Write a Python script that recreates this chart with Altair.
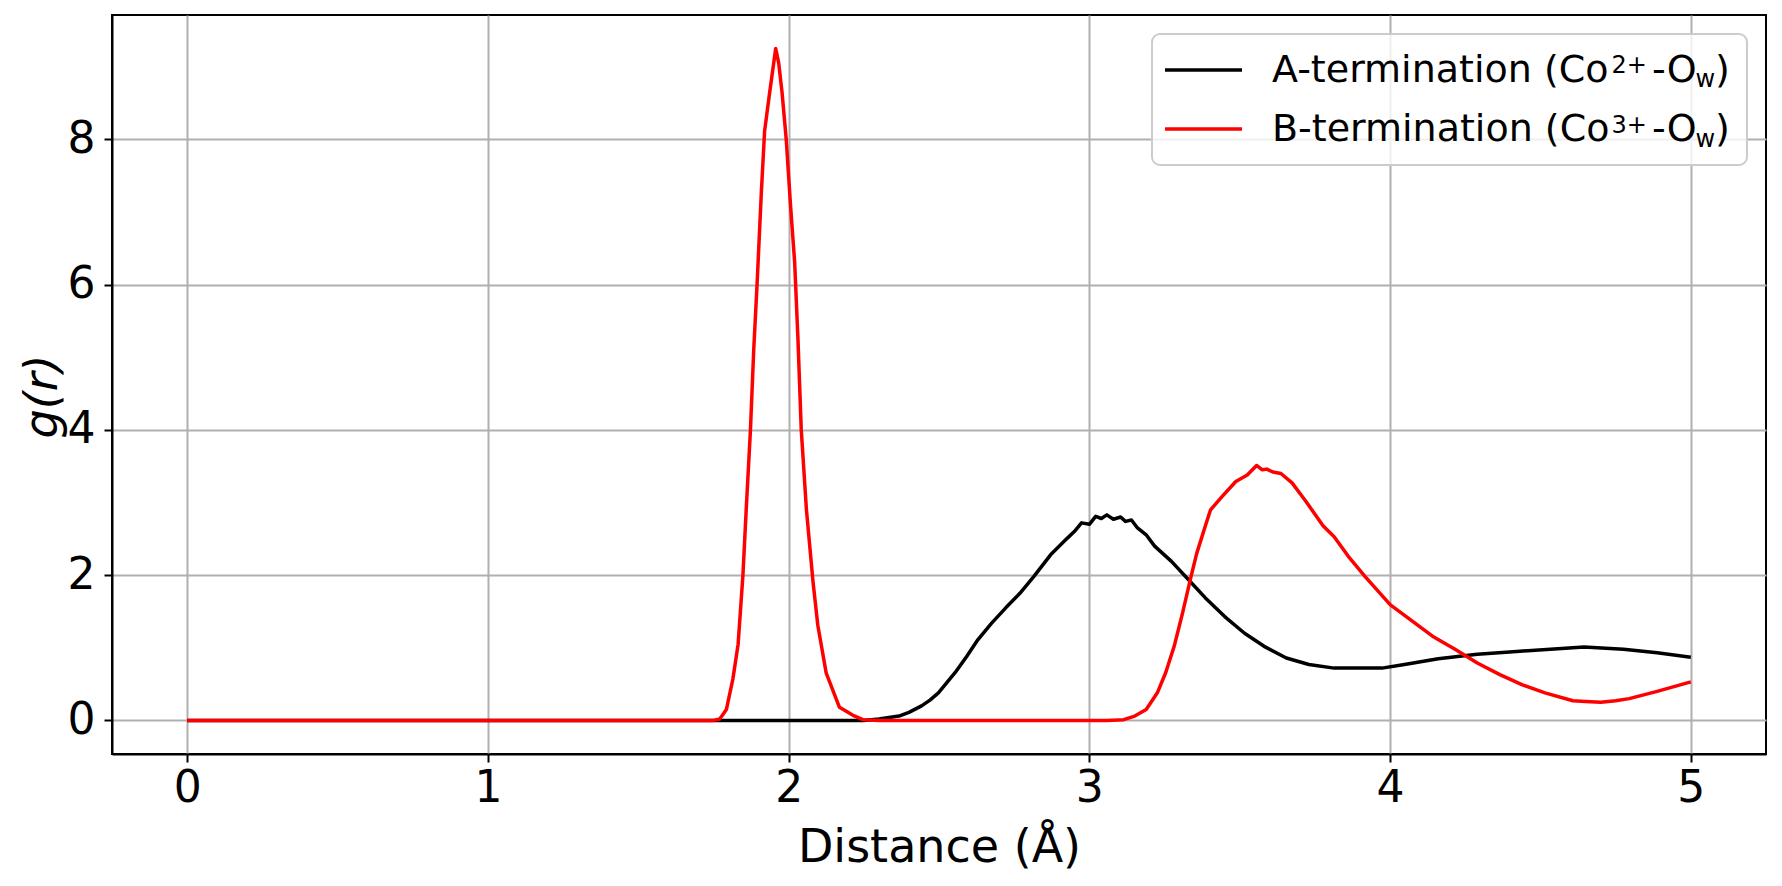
import altair as alt
import pandas as pd

# ---- data ----
a_x = [0, 1.0, 2.25, 2.30, 2.367, 2.40, 2.442, 2.47, 2.498, 2.554, 2.592, 2.629, 2.675,
       2.722, 2.769, 2.815, 2.871, 2.927, 2.95, 2.974, 3.00, 3.021, 3.04, 3.058, 3.08,
       3.104, 3.12, 3.14, 3.160, 3.19, 3.217, 3.273, 3.329, 3.385, 3.450, 3.516, 3.581,
       3.655, 3.730, 3.814, 3.898, 3.973, 4.048, 4.160, 4.290, 4.421, 4.533, 4.645,
       4.776, 4.888, 5.0]
a_y = [0, 0, 0, 0.02, 0.06, 0.11, 0.20, 0.28, 0.38, 0.66, 0.88, 1.11, 1.34,
       1.55, 1.75, 1.98, 2.28, 2.51, 2.60, 2.72, 2.70, 2.81, 2.78, 2.83, 2.77,
       2.80, 2.74, 2.76, 2.65, 2.55, 2.40, 2.19, 1.94, 1.69, 1.43, 1.20, 1.02,
       0.86, 0.77, 0.72, 0.72, 0.72, 0.77, 0.85, 0.91, 0.95, 0.98, 1.01,
       0.98, 0.93, 0.87]

b_x = [0, 1.0, 1.75, 1.771, 1.793, 1.815, 1.832, 1.848, 1.859, 1.873, 1.884, 1.895,
       1.909, 1.920, 1.937, 1.957, 1.967, 1.978, 1.992, 2.006, 2.020, 2.031, 2.042,
       2.059, 2.081, 2.097, 2.125, 2.169, 2.214, 2.247, 2.30, 2.5, 3.0, 3.058, 3.114,
       3.151, 3.189, 3.226, 3.254, 3.282, 3.310, 3.338, 3.357, 3.385, 3.403, 3.441,
       3.487, 3.525, 3.556, 3.575, 3.590, 3.610, 3.637, 3.674, 3.721, 3.777, 3.814,
       3.861, 3.917, 4.001, 4.066, 4.141, 4.216, 4.290, 4.365, 4.440, 4.515, 4.608,
       4.65, 4.701, 4.75, 4.795, 4.888, 5.0]
b_y = [0, 0, 0, 0.02, 0.15, 0.58, 1.05, 2.0, 2.91, 4.0, 5.11, 6.0,
       7.25, 8.11, 8.65, 9.25, 9.05, 8.65, 8.0, 7.11, 6.31, 5.25, 4.0,
       2.91, 1.91, 1.31, 0.65, 0.18, 0.07, 0.01, 0, 0, 0, 0, 0.01,
       0.06, 0.15, 0.38, 0.66, 1.02, 1.48, 1.98, 2.30, 2.67, 2.90, 3.08,
       3.29, 3.38, 3.51, 3.45, 3.46, 3.42, 3.40, 3.27, 3.01, 2.68, 2.53,
       2.26, 1.98, 1.59, 1.39, 1.16, 0.98, 0.79, 0.63, 0.49, 0.38, 0.27,
       0.26, 0.25, 0.27, 0.30, 0.40, 0.53]

x_ticks = [0, 1, 2, 3, 4, 5]
y_ticks = [0, 2, 4, 6, 8]
x_title = "Distance (Å)"
y_title = "g(r)"
legend_rows = [
    ["A-termination (Co", "2+", "-O", "w", ")"],
    ["B-termination (Co", "3+", "-O", "w", ")"],
]
series_colors = ["#000000", "#ff0000"]

assert len(a_x) == len(a_y) and len(b_x) == len(b_y)

FONT = "DejaVu Sans"
W, H = 1654, 739

df_a = pd.DataFrame({"r": a_x, "g": a_y})
df_b = pd.DataFrame({"r": b_x, "g": b_y})

xscale = alt.Scale(domain=[-0.25, 5.25], nice=False, zero=False)
yscale = alt.Scale(domain=[-0.4625, 9.7125], nice=False, zero=False)

xaxis = alt.Axis(values=x_ticks, title=x_title, format="d", labelFontSize=44,
                 labelPadding=4, titleFontSize=46, titleBaseline="alphabetic",
                 titleY=107, titleFontWeight="normal")
yaxis = alt.Axis(values=y_ticks, title=y_title, format="d", labelFontSize=44,
                 labelPadding=9, titleFontSize=46, titleFontStyle="italic",
                 titleFontWeight="normal", titleAngle=270, titleBaseline="alphabetic",
                 titleX=-56, titleY=381)


def line(df, color):
    return alt.Chart(df).mark_line(color=color, strokeWidth=3.5, strokeJoin="round",
                                   clip=True).encode(
        x=alt.X("r:Q", scale=xscale, axis=xaxis),
        y=alt.Y("g:Q", scale=yscale, axis=yaxis),
    )


layers = [line(df_a, series_colors[0]), line(df_b, series_colors[1])]

dummy = pd.DataFrame({"k": [0]})

# legend frame
layers.append(
    alt.Chart(dummy).mark_rect(fill="white", fillOpacity=0.8, stroke="#cccccc",
                               strokeWidth=2, cornerRadius=8).encode(
        x=alt.value(1040), x2=alt.value(1635), y=alt.value(19), y2=alt.value(150))
)

row_base = [66.7, 126.0]
line_y = [55, 114]
for i, row in enumerate(legend_rows):
    layers.append(
        alt.Chart(dummy).mark_rule(color=series_colors[i], strokeWidth=3.5).encode(
            x=alt.value(1053), x2=alt.value(1130), y=alt.value(line_y[i]))
    )
    base = row_base[i]
    segs = [
        (row[0], 1160, base, 38),
        (row[1], 1499.5, base - 8.4, 24),
        (row[2], 1540, base, 38),
        (row[3], 1583.5, base + 5.6, 24),
        (row[4], 1603, base, 38),
    ]
    for txt, sx, sy, fs in segs:
        layers.append(
            alt.Chart(pd.DataFrame({"t": [txt]})).mark_text(
                align="left", baseline="alphabetic", font=FONT, fontSize=fs,
                color="black").encode(
                text="t:N", x=alt.value(sx), y=alt.value(sy))
        )

chart = alt.layer(*layers).properties(
    width=W, height=H,
    padding={"left": 112, "top": 15, "right": 16, "bottom": 132},
    autosize=alt.AutoSizeParams(type="none"),
    background="white",
).configure_view(
    stroke="black", strokeWidth=2
).configure_axis(
    labelFont=FONT, titleFont=FONT, labelColor="black", titleColor="black",
    domainColor="black", domainWidth=2, tickColor="black", tickWidth=2, tickSize=8,
    grid=True, gridColor="#b0b0b0", gridWidth=2,
)

chart.save("out.html", embed_options={"renderer": "svg", "actions": False})
